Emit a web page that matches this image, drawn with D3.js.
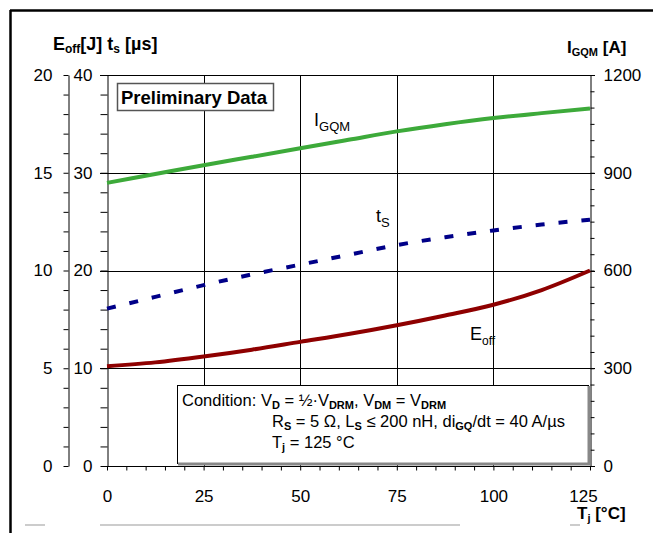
<!DOCTYPE html>
<html>
<head>
<meta charset="utf-8">
<script src="https://cdn.jsdelivr.net/npm/d3@7"></script>
<style>
  body { margin: 0; background: #fff; }
  svg { font-family: "Liberation Sans", Arial, sans-serif; }
</style>
</head>
<body>
<div id="chart"></div>
<script>
// values
const temps = [0, 12.5, 25, 37.5, 50, 62.5, 75, 87.5, 100, 112.5, 125];
const eoff = [5.1, 5.3, 5.6, 5.95, 6.35, 6.75, 7.2, 7.7, 8.25, 9.0, 10.0];
const tsVals = [16.1, 17.3, 18.5, 19.6, 20.6, 21.6, 22.6, 23.4, 24.1, 24.7, 25.2];
const igqm = [869, 896, 923, 949, 975, 1001, 1027, 1049, 1068, 1083, 1097];

const xMajor = [0, 25, 50, 75, 100, 125];
const eMajor = [0, 5, 10, 15, 20];
const tMajor = [0, 10, 20, 30, 40];
const iMajor = [0, 300, 600, 900, 1200];

const width = 653, height = 533;
const plotL = 107, plotR = 590, plotT = 75, plotB = 466;

const svg = d3.select("#chart").append("svg")
    .attr("width", width)
    .attr("height", height);

const x = d3.scaleLinear().domain([0, 125]).range([plotL, plotR]);
const yE = d3.scaleLinear().domain([0, 20]).range([plotB, plotT]);
const yT = d3.scaleLinear().domain([0, 40]).range([plotB, plotT]);
const yI = d3.scaleLinear().domain([0, 1200]).range([plotB, plotT]);

// page frame
svg.append("line").attr("x1", 10).attr("x2", width).attr("y1", 10.5).attr("y2", 10.5)
    .attr("stroke", "#000").attr("stroke-width", 2.5);
svg.append("line").attr("x1", 10.5).attr("x2", 10.5).attr("y1", 10).attr("y2", height)
    .attr("stroke", "#000").attr("stroke-width", 2.5);
[[25, 45], [100, 460], [570, 580]].forEach(s => {
    svg.append("line").attr("x1", s[0]).attr("x2", s[1]).attr("y1", 525).attr("y2", 525)
        .attr("stroke", "#999").attr("stroke-width", 1);
});

// grid
const grid = svg.append("g").attr("stroke", "#000").attr("stroke-width", 1);
xMajor.slice(1, -1).forEach(v => {
    grid.append("line").attr("x1", Math.round(x(v)) + 0.5).attr("x2", Math.round(x(v)) + 0.5)
        .attr("y1", plotT).attr("y2", plotB);
});
tMajor.slice(1).forEach(v => {
    grid.append("line").attr("x1", plotL - 7).attr("x2", plotR + 5)
        .attr("y1", Math.round(yT(v)) + 0.5).attr("y2", Math.round(yT(v)) + 0.5);
});

function styleAxis(g) {
    g.select(".domain").attr("stroke", "#000");
    g.selectAll(".tick line").attr("stroke", "#000");
    g.selectAll("text").attr("font-size", 17).attr("fill", "#000")
        .attr("font-family", "Liberation Sans, Arial, sans-serif");
}

// outer left axis: E_off
svg.append("g").attr("transform", "translate(68.5,0)")
    .call(d3.axisLeft(yE).tickValues(d3.range(0, 21, 1)).tickSize(5).tickSizeOuter(0).tickPadding(11)
        .tickFormat(d => eMajor.includes(d) ? d : ""))
    .call(styleAxis);

// inner left axis: t_s
svg.append("g").attr("transform", `translate(${plotL + 0.5},0)`)
    .call(d3.axisLeft(yT).tickValues(d3.range(0, 41, 2)).tickSize(7).tickSizeOuter(0).tickPadding(8)
        .tickFormat(d => tMajor.includes(d) ? d : ""))
    .call(styleAxis);

// right axis: I_GQM
svg.append("g").attr("transform", `translate(${plotR + 0.5},0)`)
    .call(d3.axisRight(yI).tickValues(d3.range(0, 1201, 50)).tickSize(4).tickSizeOuter(0).tickPadding(9)
        .tickFormat(d => iMajor.includes(d) ? d : ""))
    .call(styleAxis);

// bottom axis
const xAxisG = svg.append("g").attr("transform", `translate(0,${plotB + 0.5})`)
    .call(d3.axisBottom(x).tickValues(d3.range(0, 126, 5)).tickSize(4).tickSizeOuter(0).tickPadding(19)
        .tickFormat(d => xMajor.includes(d) ? d : ""))
    .call(styleAxis);
xAxisG.select(".domain").attr("d", `M${plotL},0H${plotR + 5}`);
xAxisG.selectAll(".tick text").filter(d => d === 125).attr("dx", -7);

// curves
const lineOf = (scale, vals) => d3.line()
    .x((d, i) => x(temps[i]))
    .y((d, i) => scale(vals[i]))
    .curve(d3.curveMonotoneX)(vals);

svg.append("path").attr("d", lineOf(yI, igqm))
    .attr("fill", "none").attr("stroke", "#3daa3a").attr("stroke-width", 4);
svg.append("path").attr("d", lineOf(yT, tsVals))
    .attr("fill", "none").attr("stroke", "#000088").attr("stroke-width", 4)
    .attr("stroke-dasharray", "9,14");
svg.append("path").attr("d", lineOf(yE, eoff))
    .attr("fill", "none").attr("stroke", "#8e0000").attr("stroke-width", 4);

// curve labels
function subLabel(xp, yp, main, sub, size, subSize) {
    const t = svg.append("text").attr("x", xp).attr("y", yp)
        .attr("font-size", size).attr("fill", "#000");
    t.append("tspan").text(main);
    t.append("tspan").attr("font-size", subSize).attr("dy", size * 0.25).text(sub);
    return t;
}
subLabel(314, 126, "I", "GQM", 18, 13);
subLabel(376, 222, "t", "S", 18, 13);
subLabel(470, 340, "E", "off", 18, 12);

// axis titles
const t1 = svg.append("text").attr("x", 53).attr("y", 50).attr("font-size", 18)
    .attr("font-weight", "bold");
t1.append("tspan").text("E");
t1.append("tspan").attr("font-size", 12).attr("dy", 3).text("off");
t1.append("tspan").attr("dy", -3).text("[J]  t");
t1.append("tspan").attr("font-size", 12).attr("dy", 3).text("s");
t1.append("tspan").attr("dy", -3).text(" [µs]");

const t2 = svg.append("text").attr("x", 567).attr("y", 53).attr("font-size", 17)
    .attr("font-weight", "bold");
t2.append("tspan").text("I");
t2.append("tspan").attr("font-size", 11).attr("dy", 3).text("GQM");
t2.append("tspan").attr("dy", -3).text(" [A]");

const t3 = svg.append("text").attr("x", 577).attr("y", 519).attr("font-size", 17)
    .attr("font-weight", "bold");
t3.append("tspan").text("T");
t3.append("tspan").attr("font-size", 11).attr("dy", 3).text("j");
t3.append("tspan").attr("dy", -3).text(" [°C]");

// Preliminary Data box
svg.append("rect").attr("x", 117.5).attr("y", 83.5).attr("width", 156).attr("height", 27)
    .attr("fill", "#fff").attr("stroke", "#555").attr("stroke-width", 1.5);
svg.append("text").attr("x", 121).attr("y", 104).attr("font-size", 18.5).attr("font-weight", "bold")
    .text("Preliminary Data");

// Condition box
svg.append("rect").attr("x", 177.5).attr("y", 385.5).attr("width", 411).attr("height", 78)
    .attr("fill", "#fff").attr("stroke", "#000").attr("stroke-width", 1);
svg.append("path").attr("d", "M589,386V464H178").attr("fill", "none")
    .attr("stroke", "#888").attr("stroke-width", 3);

function condLine(xp, yp, parts) {
    const t = svg.append("text").attr("x", xp).attr("y", yp).attr("font-size", 16.5).attr("fill", "#000");
    let sub = false;
    parts.forEach(p => {
        const isSub = p[1];
        const sp = t.append("tspan").text(p[0]);
        if (isSub && !sub) sp.attr("font-size", 11).attr("font-weight", "bold").attr("dy", 3);
        else if (isSub) sp.attr("font-size", 11).attr("font-weight", "bold");
        else if (sub) sp.attr("dy", -3);
        sub = isSub;
    });
}
condLine(182, 406, [["Condition: V", 0], ["D", 1], [" = ½·V", 0], ["DRM", 1], [", V", 0], ["DM", 1], [" = V", 0], ["DRM", 1]]);
condLine(272, 427, [["R", 0], ["S", 1], [" = 5 Ω, L", 0], ["S", 1], [" ≤ 200 nH, di", 0], ["GQ", 1], ["/dt = 40 A/µs", 0]]);
condLine(272, 448, [["T", 0], ["j", 1], [" = 125 °C", 0]]);
</script>
</body>
</html>
